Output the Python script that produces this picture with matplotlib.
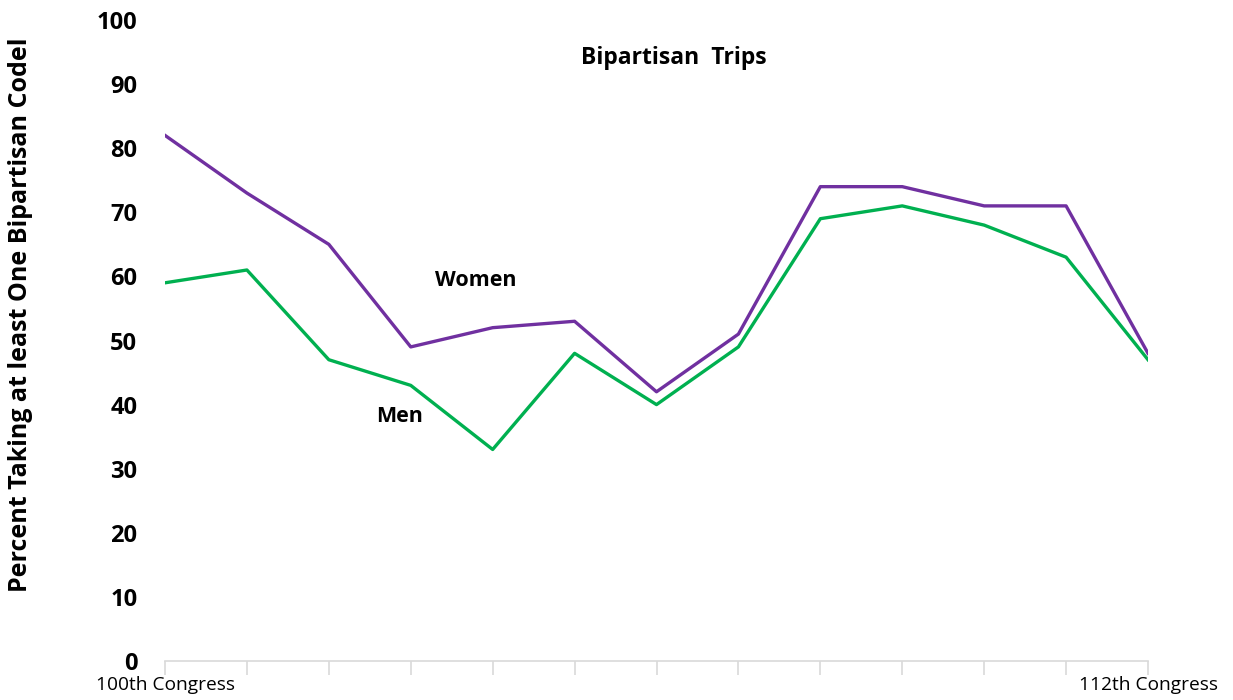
import matplotlib.pyplot as plt

plt.rcParams['font.family'] = ['Open Sans', 'DejaVu Sans']

# Share of members taking at least one bipartisan codel, 100th-112th Congress
congress = list(range(100, 113))
women = [82, 73, 65, 49, 52, 53, 42, 51, 74, 74, 71, 71, 48]
men = [59, 61, 47, 43, 33, 48, 40, 49, 69, 71, 68, 63, 47]
tick_labels = ['100th Congress'] + [''] * 11 + ['112th Congress']

fig = plt.figure(figsize=(12.33, 7), dpi=100)
ax = fig.add_axes([165 / 1233, 39 / 700, (1148 - 165) / 1233, 641 / 700])

ax.plot(congress, women, color='#7030A0', linewidth=2.4)
ax.plot(congress, men, color='#00B050', linewidth=2.4)

ax.set_xlim(100, 112)
ax.set_ylim(0, 100)
ax.set_yticks(range(0, 101, 10))
ax.set_xticks(congress)
ax.set_xticklabels(tick_labels, fontsize=13.8)

for lab in ax.get_yticklabels():
    lab.set_fontweight('bold')
    lab.set_fontsize(17)

ax.tick_params(axis='y', length=0, pad=20)
ax.tick_params(axis='x', length=10, color='#d9d9d9', width=1.2, pad=1)
for side in ['top', 'right', 'left']:
    ax.spines[side].set_visible(False)
ax.spines['bottom'].set_color('#d9d9d9')
ax.spines['bottom'].set_linewidth(1.2)

ax.set_ylabel('Percent Taking at least One Bipartisan Codel', fontsize=18,
              fontweight='bold')
ax.yaxis.set_label_coords(-132 / 983, 0.54)

ax.text(0.518, 0.94, 'Bipartisan  Trips', transform=ax.transAxes,
        ha='center', va='center', fontsize=16.5, fontweight='bold')
ax.text(103.79, 59.3, 'Women', ha='center', va='center', fontsize=15.5, fontweight='bold')
ax.text(102.86, 38.1, 'Men', ha='center', va='center', fontsize=15.5, fontweight='bold')

fig.savefig('out.png', dpi=100)
